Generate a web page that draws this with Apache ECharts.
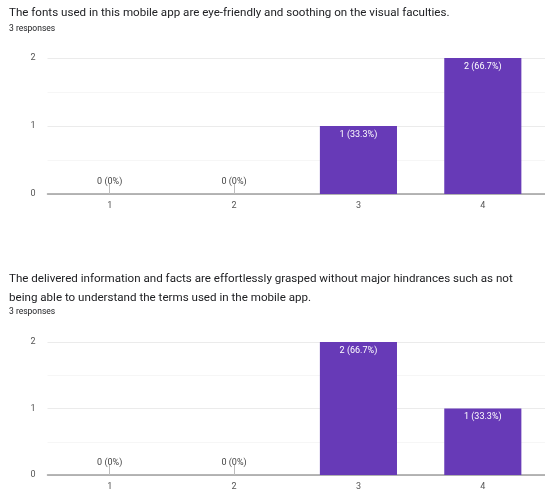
<!DOCTYPE html>
<html><head><meta charset="utf-8">
<script src="https://cdn.jsdelivr.net/npm/echarts@6/dist/echarts.min.js"></script>
<style>html,body{margin:0;padding:0;background:#fff}#c{width:545px;height:491px}</style>
</head><body><div id="c"></div>
<script>
const categories = ['1', '2', '3', '4'];
const values1 = [0, 0, 1, 2];
const values2 = [0, 0, 2, 1];
const yTicks = [0, 1, 2];
const title1 = 'The fonts used in this mobile app are eye-friendly and soothing on the visual faculties.';
const title2 = 'The delivered information and facts are effortlessly grasped without major hindrances such as not\nbeing able to understand the terms used in the mobile app.';
const responses = '3 responses';

const FONT = 'Roboto, Arial, sans-serif';
const PURPLE = '#673ab7';

function buildData(vals) {
  const total = vals.reduce((a, b) => a + b, 0);
  return vals.map(v => {
    const pct = parseFloat((v / total * 100).toFixed(1));
    const txt = v + ' (' + pct + '%)';
    if (v === 0) {
      return { value: v, label: { show: true, position: 'top', distance: 8, color: '#444', formatter: txt } };
    }
    return { value: v, label: { show: true, position: 'insideTop', distance: 4, color: '#fff', formatter: txt } };
  });
}

function xAxis(gi) {
  return {
    type: 'category', gridIndex: gi, data: categories,
    axisLine: { lineStyle: { color: '#9e9e9e', width: 1.5 } },
    axisTick: { show: true, inside: true, length: 10, alignWithLabel: true, lineStyle: { color: '#bdbdbd' } },
    axisLabel: { color: '#555', fontSize: 9, fontFamily: FONT, margin: 7 }
  };
}
function yAxis(gi) {
  return {
    type: 'value', gridIndex: gi, min: yTicks[0], max: yTicks[yTicks.length - 1], interval: 1,
    axisLine: { show: false }, axisTick: { show: false },
    axisLabel: { color: '#555', fontSize: 9, fontFamily: FONT, margin: 12 },
    splitLine: { lineStyle: { color: '#ebebeb' } },
    minorTick: { show: false, splitNumber: 2 },
    minorSplitLine: { show: true, lineStyle: { color: '#f6f6f6' } }
  };
}
function series(gi, vals) {
  return {
    type: 'bar', xAxisIndex: gi, yAxisIndex: gi, data: buildData(vals),
    barWidth: '62%', itemStyle: { color: PURPLE },
    label: { fontSize: 9, fontFamily: FONT }
  };
}

const tStyle = { fontSize: 11.6, fontWeight: 'normal', color: '#202124', fontFamily: FONT, lineHeight: 19 };
const rStyle = { fontSize: 8.5, fontWeight: 'normal', color: '#202124', fontFamily: FONT };

const chart = echarts.init(document.getElementById('c'), null, { renderer: 'canvas' });
chart.setOption({
  animation: false,
  title: [
    { text: title1, left: 9, top: 4, padding: 0, textStyle: tStyle },
    { text: responses, left: 9, top: 24, padding: 0, textStyle: rStyle },
    { text: title2, left: 9, top: 270, padding: 0, textStyle: tStyle },
    { text: responses, left: 9, top: 307, padding: 0, textStyle: rStyle }
  ],
  grid: [
    { left: 47.5, top: 58, width: 500, height: 136 },
    { left: 47.5, top: 342, width: 500, height: 136 }
  ],
  xAxis: [xAxis(0), xAxis(1)],
  yAxis: [yAxis(0), yAxis(1)],
  series: [series(0, values1), series(1, values2)]
});
</script></body></html>
